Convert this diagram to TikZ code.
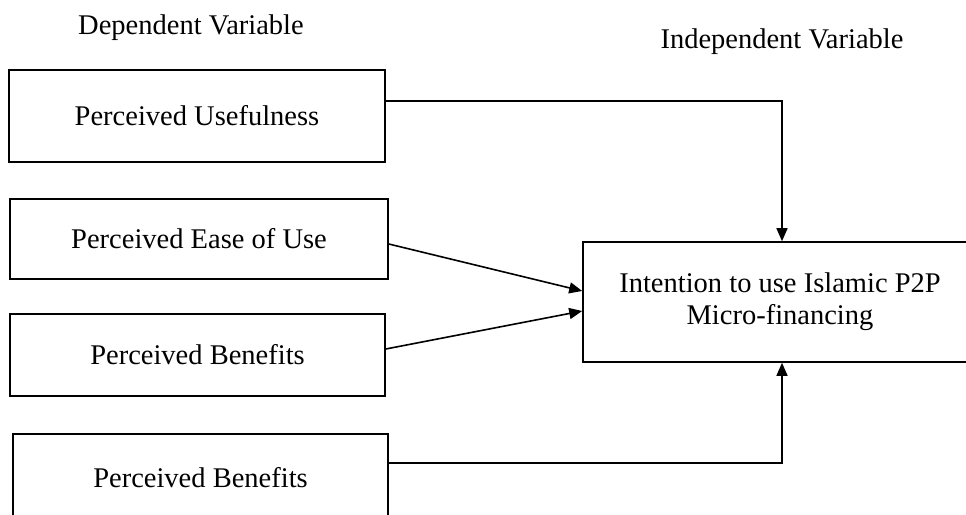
\documentclass[tikz,border=0pt]{standalone}
\usepackage{fontspec}
\setmainfont{Liberation Serif}
\usetikzlibrary{arrows.meta}

\tikzset{
  varbox/.style={draw, line width=1.6pt, rectangle, inner sep=0pt, align=center,
    font=\fontsize{28.5pt}{32pt}\selectfont},
  heading/.style={inner sep=0pt, font=\fontsize{28.5pt}{32pt}\selectfont},
  link/.style={line width=1.6pt, -{Triangle[length=13pt,width=11pt]}}
}

\begin{document}
\begin{tikzpicture}[x=1pt, y=-1pt]
  \useasboundingbox (0,0) rectangle (966,514);
  \clip (0,0) rectangle (966,514);

  % column headings
  \node[heading] (hdep) at (191,28) {Dependent Variable};
  \node[heading] (hind) at (782,42) {Independent Variable};

  % predictor boxes
  \node[varbox, minimum width=376pt, minimum height=92pt] (pu) at (197,116) {Perceived Usefulness};
  \node[varbox, minimum width=378pt, minimum height=80pt] (peou) at (199,239) {Perceived Ease of Use};
  \node[varbox, minimum width=375pt, minimum height=82pt] (pb) at (197.5,355) {Perceived Benefits};
  \node[varbox, minimum width=375pt, minimum height=88pt] (pb2) at (200.5,478) {Perceived Benefits};

  % outcome box
  \node[varbox, minimum width=394pt, minimum height=120pt] (intent) at (780,302)
    {Intention to use Islamic P2P\\Micro-financing};

  % connectors
  \draw[link] ([yshift=15pt]pu.east) -| ([xshift=2pt]intent.north);
  \draw[link] ([yshift=-5pt]peou.east) -- ([yshift=11pt]intent.west);
  \draw[link] ([yshift=6pt]pb.east) -- ([yshift=-9pt]intent.west);
  \draw[link] ([yshift=15pt]pb2.east) -| ([xshift=2pt]intent.south);
\end{tikzpicture}
\end{document}
